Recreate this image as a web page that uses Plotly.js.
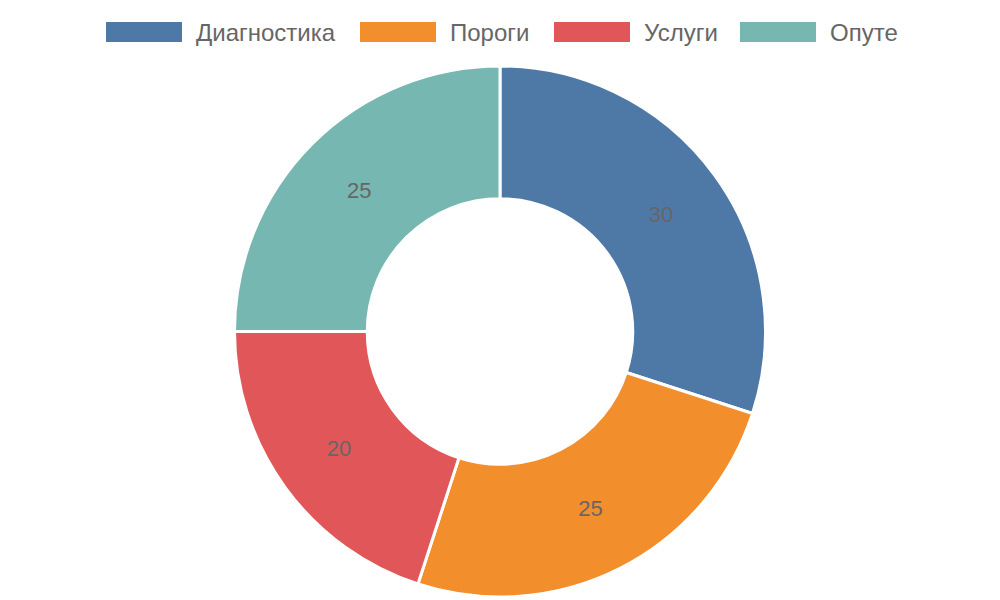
<!DOCTYPE html>
<html>
<head>
<meta charset="utf-8">
<script src="https://cdn.plot.ly/plotly-3.0.1.min.js"></script>
<style>html,body{margin:0;padding:0;background:#fff;}#chart{width:1000px;height:600px;}</style>
</head>
<body>
<div id="chart"></div>
<script>
const categories = ["Диагностика", "Пороги", "Услуги", "Опуте"];
const values = [30, 25, 20, 25];
const colors = ["#4e79a7", "#f28e2b", "#e15759", "#76b7b2"];

// legend layout (pixel positions of swatches/text)
const legendSwatchX = [106, 360, 554, 740];
const W = 1000, H = 600, mt = 66, mb = 3;
const plotH = H - mt - mb;
const py = p => (H - mb - p) / plotH;

const shapes = [];
const annotations = [];
categories.forEach((c, i) => {
  const x0 = legendSwatchX[i];
  shapes.push({type: "rect", xref: "paper", yref: "paper",
    x0: x0 / W, x1: (x0 + 76) / W, y0: py(42), y1: py(22),
    fillcolor: colors[i], line: {width: 0}});
  annotations.push({xref: "paper", yref: "paper", x: (x0 + 88) / W, y: py(32),
    xanchor: "left", yanchor: "middle", showarrow: false, text: c,
    font: {family: "Liberation Sans, Arial, sans-serif", size: 24, color: "#666666"}});
});

Plotly.newPlot("chart", [{
  type: "pie",
  labels: categories,
  values: values,
  sort: false,
  direction: "clockwise",
  rotation: 0,
  hole: 0.5,
  marker: {colors: colors, line: {color: "#ffffff", width: 3}},
  textinfo: "value",
  textposition: "inside",
  insidetextorientation: "horizontal",
  textfont: {family: "Liberation Sans, Arial, sans-serif", size: 22, color: "#666666"},
  showlegend: false
}], {
  width: W, height: H,
  margin: {l: 0, r: 0, t: mt, b: mb},
  paper_bgcolor: "#ffffff",
  showlegend: false,
  shapes: shapes,
  annotations: annotations
}, {displayModeBar: false, staticPlot: true});
</script>
</body>
</html>
